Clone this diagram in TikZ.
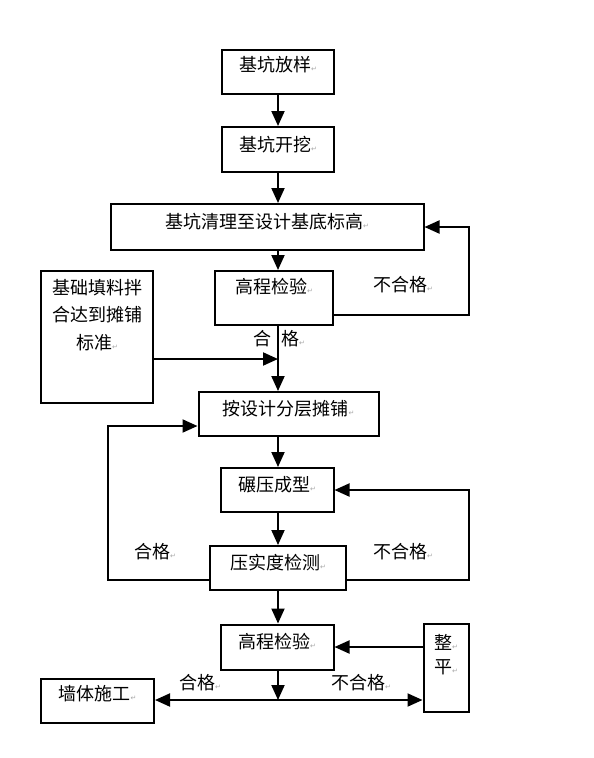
\documentclass[tikz,border=0pt]{standalone}
\usepackage{fontspec}
\usepackage{xcolor}
\usepackage{tikz}
\usetikzlibrary{arrows.meta}
\usetikzlibrary{calc}
\newfontfamily\cjk{Noto Sans CJK SC}
\newfontfamily\symfont{DejaVu Sans}
\newcommand{\retmark}{{\symfont\fontsize{7}{7}\selectfont\color{gray!70}↵}}

\begin{document}
\begin{tikzpicture}[x=1pt, y=-1pt, line/.style={-{Triangle[length=15pt, width=13pt]}, line width=2pt}, box/.style={draw, line width=2pt, inner sep=0pt, text depth=12pt, font=\cjk\fontsize{18}{27.5}\selectfont}, tag/.style={inner sep=0pt, font=\cjk\fontsize{18}{22}\selectfont}]
	\useasboundingbox (0, 0) rectangle (594, 758);
	\node[box, minimum width=112, minimum height=44, text depth=16pt] (Stake) at (278, 72) {基坑放样\retmark};
	\node[box, minimum width=112, minimum height=45] (Dig) at (278, 149.5) {基坑开挖\retmark};
	\node[box, minimum width=313, minimum height=46] (Clean) at (267, 227) {基坑清理至设计基底标高\retmark};
	\node[box, minimum width=118, minimum height=54, text depth=24pt] (Check) at (274, 298) {高程检验\retmark};
	\node[box, minimum width=112, minimum height=132, align=center, text height=78pt, text depth=54pt] (Mix) at (97, 337) {基础填料拌\\合达到摊铺\\标准\retmark};
	\node[box, minimum width=180, minimum height=44] (Spread) at (288.5, 414) {按设计分层摊铺\retmark};
	\node[box, minimum width=113, minimum height=44] (Roll) at (277, 490) {碾压成型\retmark};
	\node[box, minimum width=136, minimum height=44] (Compact) at (278, 568) {压实度检测\retmark};
	\node[box, minimum width=113, minimum height=45] (Level) at (277, 647) {高程检验\retmark};
	\node[box, minimum width=45, minimum height=88, align=center, font=\cjk\fontsize{18}{24}\selectfont, text height=49pt, text depth=39pt] (Flatten) at (446, 668) {整\retmark\\平\retmark};
	\node[box, minimum width=113, minimum height=44, text depth=16pt] (Wall) at (97.5, 701) {墙体施工\retmark};
	\coordinate (R1) at (469, 315);
	\coordinate (J1) at (278, 359);
	\coordinate (L1) at (108, 580);
	\coordinate (L2) at (108, 426);
	\coordinate (R2) at (469, 580);
	\coordinate (J2) at (278, 700);
	\draw[line] (Stake) -- (Dig);
	\draw[line] (Dig) -- (Clean.north -| Dig);
	\draw[line] (Clean.south -| Dig) -- (Check.north -| Dig);
	\draw[line] (Check.east |- R1) -- (R1) |- (Clean.east);
	\draw[line] (Check.south -| Dig) -- (Spread.north -| Dig);
	\draw[line] (Mix.east |- J1) -- (J1);
	\draw[line] (Spread.south -| Dig) -- (Roll.north -| Dig);
	\draw[line] (Roll.south -| Dig) -- (Compact.north -| Dig);
	\draw[line] (Compact.west |- L1) -- (L1) -- (L2) -- (Spread.west |- L2);
	\draw[line] (Compact.east |- R2) -- (R2) |- (Roll.east);
	\draw[line] (Compact.south -| Dig) -- (Level.north -| Dig);
	\draw[line] (Level.south -| Dig) -- (J2);
	\draw[line] (J2) -- (Wall.east |- J2);
	\draw[line] (J2) -- (Flatten.west |- J2);
	\draw[line] (Flatten.west |- Level) -- (Level.east);
	\node[tag] (FailA) at (403, 285) {不合格\retmark};
	\node[tag, anchor=west] (PassA) at (253, 339) {合\hspace{10pt}格\retmark};
	\node[tag] (PassB) at (155, 552) {合格\retmark};
	\node[tag] (FailB) at (403, 552) {不合格\retmark};
	\node[tag] (PassC) at (200, 683) {合格\retmark};
	\node[tag] (FailC) at (361, 683) {不合格\retmark};
\end{tikzpicture}
\end{document}
